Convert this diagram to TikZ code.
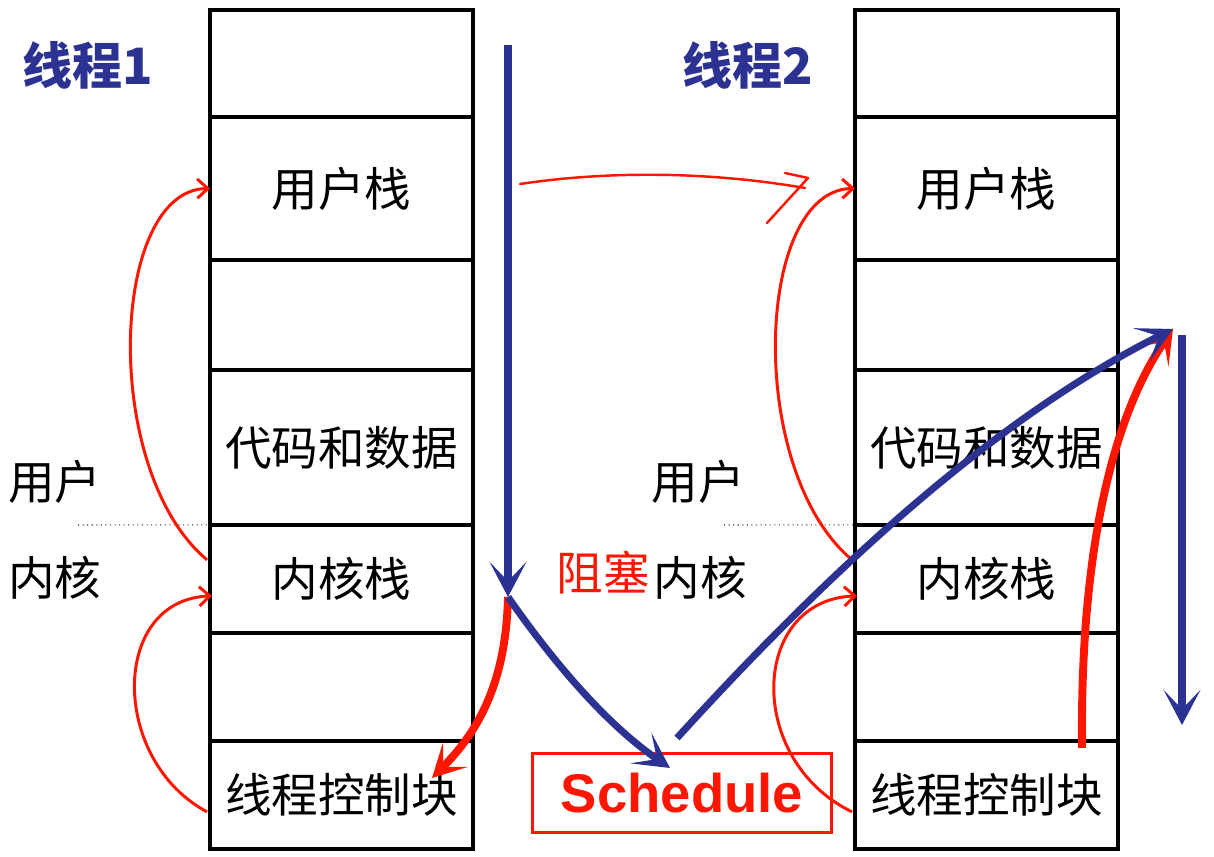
\documentclass[tikz,border=0pt]{standalone}
\usepackage{fontspec}
\setmainfont{Noto Sans CJK SC}
\newfontfamily\latinsans{Liberation Sans}
\usepackage{xcolor}
\usepackage{tikz}
\usetikzlibrary{arrows.meta, positioning, calc}
\definecolor{threadblue}{RGB}{44,50,146}
\definecolor{penred}{RGB}{255,22,0}

\begin{document}
\begin{tikzpicture}[
  x=0.02cm, y=-0.02cm,
  cell/.style={draw, line width=2.3pt, minimum width=5.26cm,
              inner sep=0pt, outer sep=0pt,
              font=\fontsize{26.5}{30}\selectfont},
  title/.style={font=\fontsize{28.5}{32}\selectfont\bfseries, text=threadblue},
  side/.style={font=\fontsize{26.5}{30}\selectfont},
  flow/.style={threadblue, line width=4pt,
              -{Stealth[length=20pt, width=21pt, inset=11pt]}},
  jump/.style={penred, line width=4.5pt,
              -{Stealth[length=19pt, width=20pt, inset=10pt]}},
  hop/.style={penred, line width=1.7pt,
              -{Straight Barb[length=6pt, width=11pt]}},
  handpen/.style={penred, line width=1.4pt, line cap=round, line join=round},
  sep/.style={dotted, line width=0.6pt, black!80},
]
\fill[white] (0,0) rectangle (1214,857);
\useasboundingbox (0,0) rectangle (1214,857);

% ── Thread 1 stack ───────────────────────────────────────────
\node[cell, minimum height=2.14cm, anchor=north] (aTop) at (341.5,10) {};
\node[cell, minimum height=2.86cm, below=0pt of aTop]  (aUser) {用户栈};
\node[cell, minimum height=2.2cm,  below=0pt of aUser] (aGap)  {};
\node[cell, minimum height=3.1cm,  below=0pt of aGap]  (aCode) {代码和数据};
\node[cell, minimum height=2.16cm, below=0pt of aCode] (aKern) {内核栈};
\node[cell, minimum height=2.16cm, below=0pt of aKern] (aFree) {};
\node[cell, minimum height=2.16cm, below=0pt of aFree] (aTcb)  {线程控制块};

\node[title] (ta) at (88,65) {线程1};
\node[side] (aUserLbl) at (55,482) {用户};
\node[side] (aKernLbl) at (55,578) {内核};
\coordinate (aSepStart) at (78,525);
\draw[sep] (aSepStart) -- (aKern.north west);

% ── Thread 2 stack ───────────────────────────────────────────
\node[cell, minimum height=2.14cm, anchor=north] (bTop) at (986.5,10) {};
\node[cell, minimum height=2.86cm, below=0pt of bTop]  (bUser) {用户栈};
\node[cell, minimum height=2.2cm,  below=0pt of bUser] (bGap)  {};
\node[cell, minimum height=3.1cm,  below=0pt of bGap]  (bCode) {代码和数据};
\node[cell, minimum height=2.16cm, below=0pt of bCode] (bKern) {内核栈};
\node[cell, minimum height=2.16cm, below=0pt of bKern] (bFree) {};
\node[cell, minimum height=2.16cm, below=0pt of bFree] (bTcb)  {线程控制块};

\node[title] (tb) at (748,65) {线程2};
\node[side] (bUserLbl) at (698,482) {用户};
\node[side] (bKernLbl) at (700,578) {内核};
\node[side, text=penred] (blockLbl) at (603,573) {阻塞};
\coordinate (bSepStart) at (724,525);
\draw[sep] (bSepStart) -- (bKern.north west);

% ── Schedule ─────────────────────────────────────────────────
\node[draw=penred, line width=1.7pt, minimum width=6cm, minimum height=1.6cm,
      font=\latinsans\bfseries\fontsize{31}{34}\selectfont, text=penred]
  (sched) at (682,793) {Schedule};

% ── stack switches (thin red) ────────────────────────────────
\draw[hop] ($(aKern.west)+(-3,-19)$) .. controls (100,470) and (110,190) .. (aUser.west);
\draw[hop] ($(aTcb.west)+(-3,17)$) .. controls (110,760) and (110,600) .. ($(aKern.west)+(2,17)$);
\draw[hop] ($(bKern.west)+(-3,-19)$) .. controls (745,470) and (755,190) .. (bUser.west);
\draw[hop] ($(bTcb.west)+(-3,17)$) .. controls (745,760) and (750,600) .. ($(bKern.west)+(2,17)$);

% hand-drawn pen stroke
\coordinate (handA) at (520,184);
\coordinate (handB) at (805,188);
\draw[handpen] (handA) .. controls (600,172) and (700,170) .. (handB);
\draw[handpen] (785,173) -- (808,178) -- (767,223);

% ── execution flow ───────────────────────────────────────────
\coordinate (runTop) at (508,45);
\coordinate (blockPt) at (508,597);
\coordinate (tcbIn) at (432,778);
\coordinate (schedIn) at (670,768);
\coordinate (schedOut) at (677,738);
\coordinate (resumePt) at (1173,329);
\coordinate (tcbOut) at (1082,748);
\coordinate (runTwoTop) at (1182,335);
\coordinate (runTwoEnd) at (1182,725);

\draw[jump] (blockPt) .. controls (506,680) and (480,730) .. (tcbIn);
\draw[jump] (tcbOut) .. controls (1080,560) and (1110,420) .. (resumePt);
\draw[flow] (runTop) -- (blockPt);
\draw[flow] (blockPt) .. controls (545,650) and (600,720) .. (schedIn);
\draw[flow] (schedOut) .. controls (827,573) and (993,419) .. (resumePt);
\draw[flow] (runTwoTop) -- (runTwoEnd);

\end{tikzpicture}
\end{document}
